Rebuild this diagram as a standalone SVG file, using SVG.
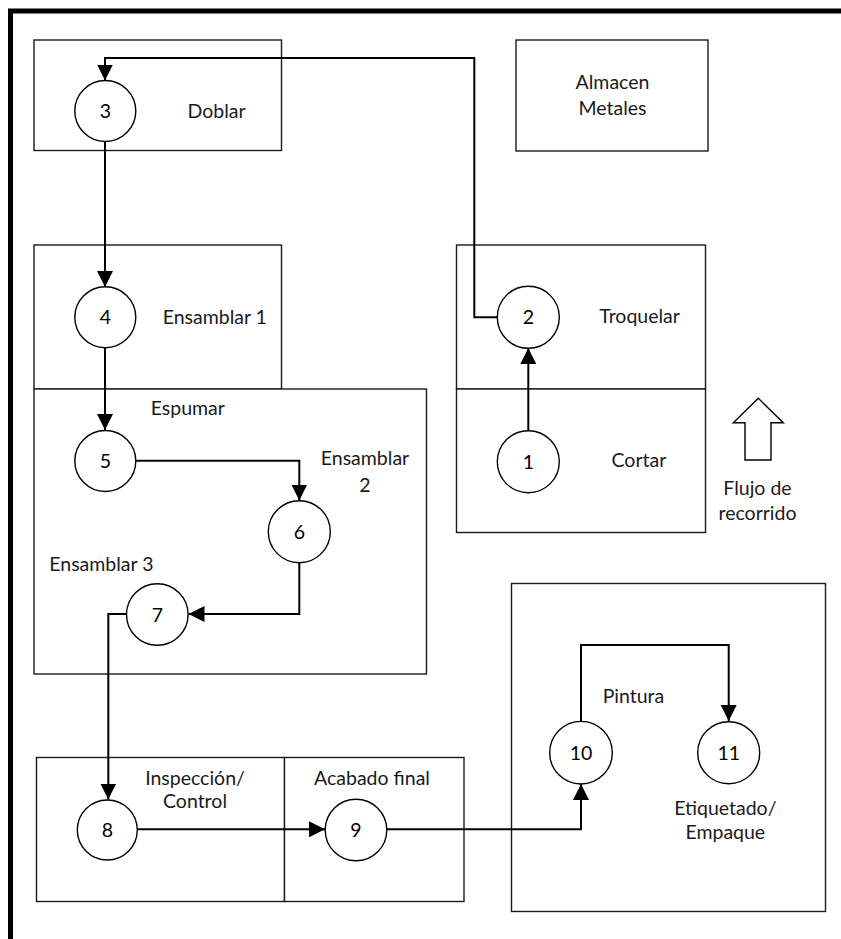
<svg xmlns="http://www.w3.org/2000/svg" width="841" height="939" viewBox="0 0 841 939">
  <defs>
    <marker id="arrow" viewBox="0 0 16 16" refX="16" refY="8" markerWidth="16" markerHeight="16" markerUnits="userSpaceOnUse" orient="auto">
      <path d="M0,0 L16,8 L0,16 Z" fill="#000"/>
    </marker>
    <style>
      .area { fill: #fff; stroke: #1a1a1a; stroke-width: 1.4; }
      .op { fill: #fff; stroke: #000; stroke-width: 1.4; }
      .num { font-family: Lato, "Liberation Sans", sans-serif; font-size: 19.5px; fill: #000; text-anchor: middle; }
      .lbl { font-family: Lato, "Liberation Sans", sans-serif; font-size: 19.5px; fill: #1a1a1a; }
      .mid { text-anchor: middle; }
      .flow { fill: none; stroke: #000; stroke-width: 2; }
      .arr { marker-end: url(#arrow); }
    </style>
  </defs>

  <rect width="841" height="939" fill="#fff"/>

  <!-- page frame -->
  <path d="M10.5,939 V11 H841" fill="none" stroke="#000" stroke-width="5"/>

  <!-- work areas -->
  <g id="area-doblar"><rect class="area" x="34" y="40" width="247.5" height="110.5"/></g>
  <g id="area-almacen">
    <rect class="area" x="516" y="40" width="192" height="111"/>
    <text class="lbl mid" x="612.5" y="89">Almacen</text>
    <text class="lbl mid" x="612.5" y="115">Metales</text>
  </g>
  <g id="area-ensamblar1"><rect class="area" x="34" y="245" width="247.5" height="144"/></g>
  <g id="area-espumar"><rect class="area" x="34" y="389" width="392.5" height="285"/></g>
  <g id="area-troquelar"><rect class="area" x="456.5" y="245" width="249" height="144"/></g>
  <g id="area-cortar"><rect class="area" x="456.5" y="389" width="249" height="143.5"/></g>
  <g id="area-inspeccion"><rect class="area" x="36.5" y="757.5" width="248" height="144"/></g>
  <g id="area-acabado"><rect class="area" x="284.5" y="757.5" width="179.5" height="144"/></g>
  <g id="area-pintura"><rect class="area" x="511.5" y="583.5" width="314" height="328"/></g>

  <!-- material flow -->
  <g id="connectors">
    <path class="flow arr" d="M497,317.3 H474.3 V58 H105 V80.5"/>
    <path class="flow arr" d="M105,141.5 V287"/>
    <path class="flow arr" d="M105,348 V430"/>
    <path class="flow arr" d="M136,460.7 H299.3 V500.5"/>
    <path class="flow arr" d="M299.3,563 V614 H188.5"/>
    <path class="flow" d="M126.5,614 H108.3 V799.5" marker-end="url(#arrow)"/>
    <path class="flow arr" d="M138,829.3 H325"/>
    <path class="flow arr" d="M387,829.3 H581 V784"/>
    <path class="flow arr" d="M581,721.5 V645 H728.7 V721"/>
    <path class="flow arr" d="M528.3,430.7 V348"/>
  </g>

  <!-- operations -->
  <g id="op-1">
    <circle class="op" cx="528.3" cy="461.7" r="31"/>
    <text class="num" x="528.3" y="468.7">1</text>
    <text class="lbl" x="611.5" y="467.3">Cortar</text>
  </g>
  <g id="op-2">
    <circle class="op" cx="528.3" cy="317.3" r="31"/>
    <text class="num" x="528.3" y="324.3">2</text>
    <text class="lbl" x="599.3" y="323.3">Troquelar</text>
  </g>
  <g id="op-3">
    <circle class="op" cx="105.3" cy="111" r="30.5"/>
    <text class="num" x="105.3" y="118">3</text>
    <text class="lbl" x="187.5" y="118">Doblar</text>
  </g>
  <g id="op-4">
    <circle class="op" cx="105.3" cy="317.3" r="30.5"/>
    <text class="num" x="105.3" y="324.3">4</text>
    <text class="lbl" x="162.7" y="324">Ensamblar 1</text>
  </g>
  <g id="op-5">
    <circle class="op" cx="105.3" cy="461" r="30.5"/>
    <text class="num" x="105.3" y="468">5</text>
    <text class="lbl" x="150.7" y="415">Espumar</text>
  </g>
  <g id="op-6">
    <circle class="op" cx="299.3" cy="531.7" r="31"/>
    <text class="num" x="299.3" y="538.7">6</text>
    <text class="lbl mid" x="365" y="465">Ensamblar</text>
    <text class="lbl mid" x="365" y="491.5">2</text>
  </g>
  <g id="op-7">
    <circle class="op" cx="157.3" cy="614.5" r="30.8"/>
    <text class="num" x="157.3" y="621.5">7</text>
    <text class="lbl" x="49.3" y="570.7">Ensamblar 3</text>
  </g>
  <g id="op-8">
    <circle class="op" cx="107.3" cy="830" r="30"/>
    <text class="num" x="107.3" y="837">8</text>
    <text class="lbl mid" x="195" y="785">Inspección/</text>
    <text class="lbl mid" x="195" y="808.3">Control</text>
  </g>
  <g id="op-9">
    <circle class="op" cx="356" cy="830" r="30.8"/>
    <text class="num" x="356" y="837">9</text>
    <text class="lbl mid" x="372" y="785">Acabado final</text>
  </g>
  <g id="op-10">
    <circle class="op" cx="581" cy="752.7" r="31.3"/>
    <text class="num" x="581" y="759.7">10</text>
    <text class="lbl" x="602.7" y="702.7">Pintura</text>
  </g>
  <g id="op-11">
    <circle class="op" cx="728.7" cy="752.7" r="31"/>
    <text class="num" x="728.7" y="759.7">11</text>
    <text class="lbl mid" x="725.3" y="815">Etiquetado/</text>
    <text class="lbl mid" x="725.3" y="839.3">Empaque</text>
  </g>

  <!-- flow direction legend -->
  <g id="legend">
    <path d="M758.3,398.3 L783.3,422.7 H771 V460 H745 V422.7 H733.3 Z" fill="#fff" stroke="#000" stroke-width="1.4" stroke-linejoin="miter"/>
    <text class="lbl mid" x="757.5" y="495">Flujo de</text>
    <text class="lbl mid" x="757.5" y="520">recorrido</text>
  </g>
</svg>
